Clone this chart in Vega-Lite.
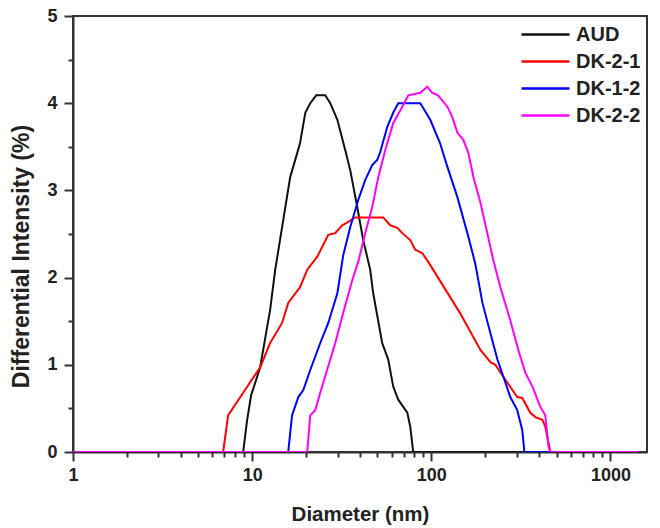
{
  "$schema": "https://vega.github.io/schema/vega-lite/v6.json",
  "width": 574,
  "height": 436,
  "autosize": {"type": "none"},
  "padding": {"left": 73, "top": 16, "right": 13, "bottom": 76},
  "background": "white",
  "config": {
    "view": {"stroke": "#333333", "strokeWidth": 2},
    "font": "Liberation Sans"
  },
  "data": {
    "values": [
      {"s": "AUD", "d": 1, "v": 0}, {"s": "AUD", "d": 8.91, "v": 0}, {"s": "AUD", "d": 9.38, "v": 0.37}, {"s": "AUD", "d": 9.87, "v": 0.65}, {"s": "AUD", "d": 11.08, "v": 0.97}, {"s": "AUD", "d": 12.6, "v": 1.63}, {"s": "AUD", "d": 13.45, "v": 2.09}, {"s": "AUD", "d": 16.3, "v": 3.15}, {"s": "AUD", "d": 17.4, "v": 3.35}, {"s": "AUD", "d": 18.5, "v": 3.54}, {"s": "AUD", "d": 19.8, "v": 3.89}, {"s": "AUD", "d": 21.1, "v": 4.0}, {"s": "AUD", "d": 22.8, "v": 4.09}, {"s": "AUD", "d": 25.6, "v": 4.09}, {"s": "AUD", "d": 27.3, "v": 4.0}, {"s": "AUD", "d": 29.9, "v": 3.81}, {"s": "AUD", "d": 33.1, "v": 3.46}, {"s": "AUD", "d": 35.3, "v": 3.23}, {"s": "AUD", "d": 38.6, "v": 2.81}, {"s": "AUD", "d": 41.7, "v": 2.43}, {"s": "AUD", "d": 45.6, "v": 2.09}, {"s": "AUD", "d": 47.4, "v": 1.82}, {"s": "AUD", "d": 53.2, "v": 1.25}, {"s": "AUD", "d": 57.5, "v": 1.06}, {"s": "AUD", "d": 61.3, "v": 0.75}, {"s": "AUD", "d": 65.4, "v": 0.6}, {"s": "AUD", "d": 73.5, "v": 0.45}, {"s": "AUD", "d": 76.3, "v": 0.29}, {"s": "AUD", "d": 79.3, "v": 0}, {"s": "AUD", "d": 1430, "v": 0},
      {"s": "DK-2-1", "d": 1, "v": 0}, {"s": "DK-2-1", "d": 6.89, "v": 0}, {"s": "DK-2-1", "d": 7.34, "v": 0.42}, {"s": "DK-2-1", "d": 8.91, "v": 0.68}, {"s": "DK-2-1", "d": 11.08, "v": 0.97}, {"s": "DK-2-1", "d": 12.6, "v": 1.25}, {"s": "DK-2-1", "d": 14.7, "v": 1.48}, {"s": "DK-2-1", "d": 15.9, "v": 1.71}, {"s": "DK-2-1", "d": 18.5, "v": 1.89}, {"s": "DK-2-1", "d": 20.3, "v": 2.09}, {"s": "DK-2-1", "d": 23.1, "v": 2.24}, {"s": "DK-2-1", "d": 26.6, "v": 2.49}, {"s": "DK-2-1", "d": 29.1, "v": 2.51}, {"s": "DK-2-1", "d": 31.8, "v": 2.6}, {"s": "DK-2-1", "d": 33.9, "v": 2.63}, {"s": "DK-2-1", "d": 37.6, "v": 2.69}, {"s": "DK-2-1", "d": 53.9, "v": 2.69}, {"s": "DK-2-1", "d": 59.0, "v": 2.6}, {"s": "DK-2-1", "d": 64.6, "v": 2.57}, {"s": "DK-2-1", "d": 68.9, "v": 2.51}, {"s": "DK-2-1", "d": 76.3, "v": 2.43}, {"s": "DK-2-1", "d": 81.4, "v": 2.32}, {"s": "DK-2-1", "d": 89.1, "v": 2.28}, {"s": "DK-2-1", "d": 96.2, "v": 2.18}, {"s": "DK-2-1", "d": 145, "v": 1.59}, {"s": "DK-2-1", "d": 188, "v": 1.17}, {"s": "DK-2-1", "d": 214, "v": 1.03}, {"s": "DK-2-1", "d": 228, "v": 1.0}, {"s": "DK-2-1", "d": 249, "v": 0.88}, {"s": "DK-2-1", "d": 302, "v": 0.63}, {"s": "DK-2-1", "d": 322, "v": 0.62}, {"s": "DK-2-1", "d": 357, "v": 0.45}, {"s": "DK-2-1", "d": 381, "v": 0.4}, {"s": "DK-2-1", "d": 417, "v": 0.37}, {"s": "DK-2-1", "d": 433, "v": 0.29}, {"s": "DK-2-1", "d": 462, "v": 0}, {"s": "DK-2-1", "d": 1430, "v": 0},
      {"s": "DK-1-2", "d": 1, "v": 0}, {"s": "DK-1-2", "d": 15.9, "v": 0}, {"s": "DK-1-2", "d": 16.7, "v": 0.42}, {"s": "DK-1-2", "d": 18.1, "v": 0.63}, {"s": "DK-1-2", "d": 19.3, "v": 0.71}, {"s": "DK-1-2", "d": 21.1, "v": 0.94}, {"s": "DK-1-2", "d": 24.0, "v": 1.25}, {"s": "DK-1-2", "d": 26.6, "v": 1.48}, {"s": "DK-1-2", "d": 29.9, "v": 1.82}, {"s": "DK-1-2", "d": 32.2, "v": 2.25}, {"s": "DK-1-2", "d": 35.3, "v": 2.58}, {"s": "DK-1-2", "d": 39.1, "v": 2.89}, {"s": "DK-1-2", "d": 42.8, "v": 3.12}, {"s": "DK-1-2", "d": 46.8, "v": 3.29}, {"s": "DK-1-2", "d": 49.9, "v": 3.35}, {"s": "DK-1-2", "d": 51.9, "v": 3.44}, {"s": "DK-1-2", "d": 56.8, "v": 3.73}, {"s": "DK-1-2", "d": 61.3, "v": 3.89}, {"s": "DK-1-2", "d": 65.4, "v": 4.0}, {"s": "DK-1-2", "d": 86.8, "v": 4.0}, {"s": "DK-1-2", "d": 98.7, "v": 3.81}, {"s": "DK-1-2", "d": 112, "v": 3.54}, {"s": "DK-1-2", "d": 123, "v": 3.27}, {"s": "DK-1-2", "d": 140, "v": 2.92}, {"s": "DK-1-2", "d": 161, "v": 2.47}, {"s": "DK-1-2", "d": 176, "v": 2.16}, {"s": "DK-1-2", "d": 193, "v": 1.71}, {"s": "DK-1-2", "d": 214, "v": 1.36}, {"s": "DK-1-2", "d": 234, "v": 1.06}, {"s": "DK-1-2", "d": 253, "v": 0.86}, {"s": "DK-1-2", "d": 276, "v": 0.63}, {"s": "DK-1-2", "d": 302, "v": 0.48}, {"s": "DK-1-2", "d": 322, "v": 0.25}, {"s": "DK-1-2", "d": 331, "v": 0}, {"s": "DK-1-2", "d": 1430, "v": 0},
      {"s": "DK-2-2", "d": 1, "v": 0}, {"s": "DK-2-2", "d": 20.3, "v": 0}, {"s": "DK-2-2", "d": 21.1, "v": 0.42}, {"s": "DK-2-2", "d": 22.5, "v": 0.48}, {"s": "DK-2-2", "d": 24.0, "v": 0.68}, {"s": "DK-2-2", "d": 26.2, "v": 0.94}, {"s": "DK-2-2", "d": 29.1, "v": 1.25}, {"s": "DK-2-2", "d": 32.2, "v": 1.59}, {"s": "DK-2-2", "d": 36.2, "v": 1.97}, {"s": "DK-2-2", "d": 39.1, "v": 2.18}, {"s": "DK-2-2", "d": 42.8, "v": 2.51}, {"s": "DK-2-2", "d": 46.8, "v": 2.81}, {"s": "DK-2-2", "d": 50.6, "v": 3.15}, {"s": "DK-2-2", "d": 55.3, "v": 3.46}, {"s": "DK-2-2", "d": 61.3, "v": 3.77}, {"s": "DK-2-2", "d": 68.9, "v": 3.96}, {"s": "DK-2-2", "d": 74.4, "v": 4.09}, {"s": "DK-2-2", "d": 86.8, "v": 4.12}, {"s": "DK-2-2", "d": 95.0, "v": 4.19}, {"s": "DK-2-2", "d": 101, "v": 4.12}, {"s": "DK-2-2", "d": 109, "v": 4.09}, {"s": "DK-2-2", "d": 123, "v": 3.96}, {"s": "DK-2-2", "d": 131, "v": 3.84}, {"s": "DK-2-2", "d": 140, "v": 3.66}, {"s": "DK-2-2", "d": 151, "v": 3.58}, {"s": "DK-2-2", "d": 161, "v": 3.43}, {"s": "DK-2-2", "d": 172, "v": 3.15}, {"s": "DK-2-2", "d": 188, "v": 2.86}, {"s": "DK-2-2", "d": 222, "v": 2.2}, {"s": "DK-2-2", "d": 243, "v": 1.89}, {"s": "DK-2-2", "d": 276, "v": 1.51}, {"s": "DK-2-2", "d": 306, "v": 1.17}, {"s": "DK-2-2", "d": 335, "v": 0.91}, {"s": "DK-2-2", "d": 367, "v": 0.75}, {"s": "DK-2-2", "d": 406, "v": 0.52}, {"s": "DK-2-2", "d": 433, "v": 0.42}, {"s": "DK-2-2", "d": 451, "v": 0.06}, {"s": "DK-2-2", "d": 462, "v": 0}, {"s": "DK-2-2", "d": 1430, "v": 0}
    ]
  },
  "mark": {"type": "line", "strokeWidth": 2, "clip": true},
  "encoding": {
    "x": {
      "field": "d",
      "type": "quantitative",
      "scale": {"type": "log", "domain": [1, 1600], "nice": false},
      "axis": {
        "title": "Diameter (nm)",
        "values": [1, 2, 3, 4, 5, 6, 7, 8, 9, 10, 20, 30, 40, 50, 60, 70, 80, 90, 100, 200, 300, 400, 500, 600, 700, 800, 900, 1000],
        "labelExpr": "datum.value == 1 || datum.value == 10 || datum.value == 100 || datum.value == 1000 ? format(datum.value, 'd') : ''",
        "tickSize": {"condition": {"test": "datum.value == 1 || datum.value == 10 || datum.value == 100 || datum.value == 1000", "value": 9}, "value": 5},
        "tickWidth": 2,
        "tickColor": "#333333",
        "domainColor": "#333333",
        "domainWidth": 2,
        "grid": false,
        "labelFont": "Liberation Sans",
        "labelFontSize": 18,
        "labelFontWeight": "bold",
        "labelColor": "#222222",
        "labelPadding": 5,
        "labelFlush": false,
        "labelOverlap": false,
        "titleFont": "Liberation Sans",
        "titleFontSize": 20.5,
        "titleFontWeight": "bold",
        "titleColor": "#222222",
        "titlePadding": 20
      }
    },
    "y": {
      "field": "v",
      "type": "quantitative",
      "scale": {"domain": [0, 5], "nice": false},
      "axis": {
        "title": "Differential Intensity (%)",
        "values": [0, 0.5, 1, 1.5, 2, 2.5, 3, 3.5, 4, 4.5, 5],
        "labelExpr": "datum.value % 1 == 0 ? format(datum.value, 'd') : ''",
        "tickSize": {"condition": {"test": "datum.value % 1 == 0", "value": 9}, "value": 5},
        "tickWidth": 2,
        "tickColor": "#333333",
        "domainColor": "#333333",
        "domainWidth": 2,
        "grid": false,
        "labelFont": "Liberation Sans",
        "labelFontSize": 18,
        "labelFontWeight": "bold",
        "labelColor": "#222222",
        "labelPadding": 7,
        "labelFlush": false,
        "labelOverlap": false,
        "titleFont": "Liberation Sans",
        "titleFontSize": 23,
        "titleFontWeight": "bold",
        "titleColor": "#222222",
        "titlePadding": 13,
        "titleY": 240
      }
    },
    "color": {
      "field": "s",
      "type": "nominal",
      "sort": ["AUD", "DK-2-1", "DK-1-2", "DK-2-2"],
      "scale": {"domain": ["AUD", "DK-2-1", "DK-1-2", "DK-2-2"], "range": ["#111111", "#ff0000", "#0000ff", "#ff00ff"]},
      "legend": {
        "title": null,
        "orient": "none",
        "legendX": 447,
        "legendY": 6,
        "padding": 0,
        "symbolType": "stroke",
        "symbolStrokeWidth": 2.5,
        "symbolSize": 2304,
        "clipHeight": 25,
        "labelFont": "Liberation Sans",
        "labelFontSize": 20,
        "labelFontWeight": "bold",
        "labelColor": "#222222",
        "labelOffset": 5,
        "rowPadding": 2
      }
    }
  }
}
